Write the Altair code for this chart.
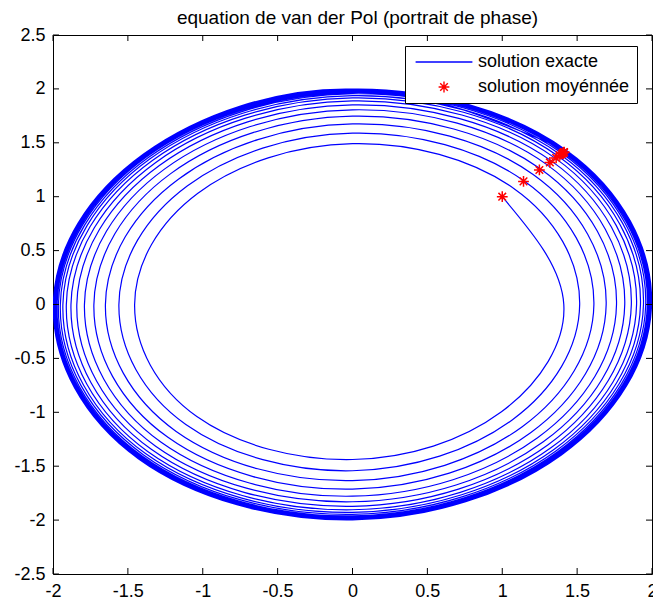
import altair as alt
import numpy as np
import pandas as pd

title_text = "equation de van der Pol (portrait de phase)"
series_names = ["solution exacte", "solution moyénnée"]

# Exact solution: radius of each successive turn of the spiral, read along
# eight directions, in the order the curve travels them (clockwise from (1,1)).
dir_angles = [45, 0, -45, -90, -135, 180, 135, 90]
r_ne = [1.414, 1.523, 1.621, 1.706, 1.777, 1.835, 1.881, 1.917, 1.944, 1.965, 1.981,
        1.992, 2.001, 2.007, 2.012, 2.016, 2.018, 2.020, 2.021, 2.022, 2.023]
r_e = [1.411, 1.517, 1.612, 1.694, 1.763, 1.818, 1.862, 1.897, 1.923, 1.943, 1.958,
       1.969, 1.977, 1.983, 1.988, 1.991, 1.993, 1.995, 1.997, 1.997]
r_se = [1.407, 1.511, 1.603, 1.682, 1.748, 1.802, 1.844, 1.877, 1.902, 1.921, 1.935,
        1.945, 1.953, 1.959, 1.963, 1.966, 1.969, 1.970, 1.972, 1.973]
r_s = [1.438, 1.542, 1.634, 1.713, 1.778, 1.830, 1.872, 1.904, 1.928, 1.947, 1.961,
       1.971, 1.979, 1.985, 1.989, 1.992, 1.994, 1.996, 1.997, 1.998]
r_sw = [1.470, 1.574, 1.665, 1.743, 1.807, 1.859, 1.900, 1.931, 1.955, 1.973, 1.987,
        1.997, 2.004, 2.010, 2.014, 2.017, 2.019, 2.021, 2.022, 2.023]
r_w = [1.455, 1.560, 1.650, 1.727, 1.790, 1.841, 1.880, 1.911, 1.934, 1.951, 1.964,
       1.973, 1.980, 1.986, 1.990, 1.992, 1.994, 1.996, 1.997, 1.998]
r_nw = [1.460, 1.558, 1.644, 1.717, 1.776, 1.824, 1.861, 1.890, 1.912, 1.928, 1.941,
        1.950, 1.956, 1.961, 1.965, 1.968, 1.970, 1.971, 1.972, 1.973]
r_n = [1.492, 1.590, 1.675, 1.747, 1.806, 1.852, 1.889, 1.917, 1.938, 1.955, 1.966,
       1.975, 1.982, 1.987, 1.990, 1.993, 1.995, 1.996, 1.997, 1.998]

# Averaged solution (red stars), on the diagonal x = y
star_x = [1.000, 1.142, 1.248, 1.318, 1.360, 1.385, 1.398, 1.406, 1.410, 1.412, 1.413]
star_y = [1.000, 1.142, 1.248, 1.318, 1.360, 1.385, 1.398, 1.406, 1.410, 1.412, 1.413]

x_ticks = [-2, -1.5, -1, -0.5, 0, 0.5, 1, 1.5, 2]
y_ticks = [-2.5, -2, -1.5, -1, -0.5, 0, 0.5, 1, 1.5, 2, 2.5]

# ---- tables -------------------------------------------------------------
dirs = [r_ne, r_e, r_se, r_s, r_sw, r_w, r_nw, r_n]
rows = []
idx = 0
for k in range(len(r_e)):
    for arr, ang in zip(dirs, dir_angles):
        rows.append((idx, arr[k], ang))
        idx += 1
rows.append((idx, r_ne[-1], dir_angles[0]))
spiral = pd.DataFrame(rows, columns=["i", "r", "a"])
spiral["x"] = spiral["r"] * np.cos(np.deg2rad(spiral["a"]))
spiral["y"] = spiral["r"] * np.sin(np.deg2rad(spiral["a"]))

stars = pd.DataFrame({"x": star_x, "y": star_y, "series": series_names[1]})
xt = pd.DataFrame({"v": x_ticks})
yt = pd.DataFrame({"v": y_ticks})

W, H = 599, 539
FONT = "Liberation Sans, Arial, sans-serif"
tick_len = 6

xscale = alt.Scale(domain=[-2, 2], nice=False, zero=False)
yscale = alt.Scale(domain=[-2.5, 2.5], nice=False, zero=False)

lab = "(datum.value < 0 ? '-' + format(abs(datum.value), '') + '\u00a0\u00a0' : format(datum.value, ''))"
laby = "(datum.value < 0 ? '-' : '') + format(abs(datum.value), '')"

xaxis = alt.Axis(values=x_ticks, labelExpr=lab, labelPadding=8, labelFlush=False,
                 labelOverlap=False, title=None, ticks=False, tickSize=0, domain=False, grid=False)
yaxis = alt.Axis(values=y_ticks, labelExpr=laby, labelPadding=8, labelFlush=False,
                 labelOverlap=False, title=None, ticks=False, tickSize=0, domain=False, grid=False)

line_path = "M-7.1,0L7.1,0"
star_path = "M-1.35,0L1.35,0M0,-1.35L0,1.35M-0.95,-0.95L0.95,0.95M-0.95,0.95L0.95,-0.95"

curve = alt.Chart(spiral).mark_line(
    color="#0000ff", strokeWidth=1.2, interpolate="natural", clip=True
).encode(
    x=alt.X("x:Q", scale=xscale, axis=xaxis),
    y=alt.Y("y:Q", scale=yscale, axis=yaxis),
    order=alt.Order("i:Q"),
)

pts = alt.Chart(stars).mark_point(
    filled=False, size=64, strokeWidth=1.5, opacity=1
).encode(
    x=alt.X("x:Q", scale=xscale),
    y=alt.Y("y:Q", scale=yscale),
    color=alt.Color("series:N",
                    scale=alt.Scale(domain=series_names, range=["#0000ff", "#ff0000"]),
                    legend=alt.Legend(title=None)),
    shape=alt.Shape("series:N",
                    scale=alt.Scale(domain=series_names, range=[line_path, star_path]),
                    legend=alt.Legend(title=None)),
)

tick_bottom = alt.Chart(xt).mark_rule(color="black", strokeWidth=1).encode(
    x=alt.X("v:Q", scale=xscale), y=alt.value(H), y2=alt.value(H - tick_len))
tick_top = alt.Chart(xt).mark_rule(color="black", strokeWidth=1).encode(
    x=alt.X("v:Q", scale=xscale), y=alt.value(0), y2=alt.value(tick_len))
tick_left = alt.Chart(yt).mark_rule(color="black", strokeWidth=1).encode(
    y=alt.Y("v:Q", scale=yscale), x=alt.value(0), x2=alt.value(tick_len))
tick_right = alt.Chart(yt).mark_rule(color="black", strokeWidth=1).encode(
    y=alt.Y("v:Q", scale=yscale), x=alt.value(W), x2=alt.value(W - tick_len))

chart = alt.layer(curve, pts, tick_bottom, tick_top, tick_left, tick_right).properties(
    width=W, height=H,
    title=alt.TitleParams(title_text, dy=10, dx=5),
    autosize=alt.AutoSizeParams(type="none"),
    padding={"left": 53, "top": 35, "right": 1, "bottom": 26},
    background="white",
).configure_view(
    stroke="black", strokeWidth=1
).configure_axis(
    labelFont=FONT, labelFontSize=18, labelColor="black",
).configure_title(
    font=FONT, fontSize=19, fontWeight="normal", color="black", anchor="middle", offset=8,
).configure_legend(
    orient="none", legendX=352, legendY=11, padding=7,
    fillColor="white", strokeColor="black", strokeWidth=1,
    symbolSize=64, symbolStrokeWidth=1.4, symbolOffset=23, labelOffset=25,
    rowPadding=7, labelFont=FONT, labelFontSize=18, labelColor="black",
    labelLimit=400, symbolOpacity=1,
)

chart.save("out.html", embed_options={"renderer": "svg", "actions": False})
